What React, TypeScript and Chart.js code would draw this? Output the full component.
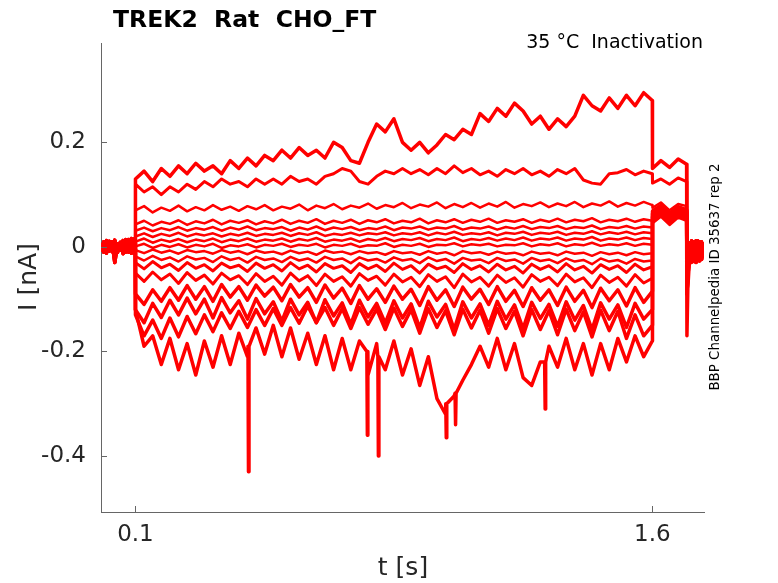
import { useEffect, useRef } from "react";
import { Chart, ChartConfiguration, registerables } from "chart.js";

Chart.register(...registerables);

// time bases [s]
const preT = [0, 0.008, 0.016, 0.024, 0.032, 0.04, 0.048, 0.056, 0.064, 0.072, 0.08, 0.088, 0.096, 0.0995];
const mainT = [
  0.1, 0.125, 0.15, 0.175, 0.2, 0.225, 0.25, 0.275, 0.3, 0.325,
  0.35, 0.375, 0.4, 0.425, 0.45, 0.475, 0.5, 0.525, 0.55, 0.575,
  0.6, 0.625, 0.65, 0.675, 0.7, 0.725, 0.75, 0.775, 0.8, 0.825,
  0.85, 0.875, 0.9, 0.925, 0.95, 0.975, 1, 1.025, 1.05, 1.075,
  1.1, 1.125, 1.15, 1.175, 1.2, 1.225, 1.25, 1.275, 1.3, 1.325,
  1.35, 1.375, 1.4, 1.425, 1.45, 1.475, 1.5, 1.525, 1.55, 1.575,
  1.6,
];
const stepT = [1.6005, 1.625, 1.65, 1.675, 1.6995];
const tailT = [1.7005, 1.703, 1.706, 1.71, 1.714, 1.718, 1.722, 1.727, 1.732, 1.737, 1.743, 1.75];

// holding current before the conditioning step [nA]
const preA = [0.004, -0.01, 0.012, -0.008, 0.01, -0.03, 0.006, -0.006, 0.012, -0.01, 0.014, -0.012, 0.015, -0.005];
const preB = [-0.008, 0.01, -0.012, 0.011, -0.009, 0.013, -0.011, 0.009, -0.013, 0.014, -0.01, 0.016, -0.012, 0.008];

// conditioning step, one array per sweep [nA]
const traceA = [
  0.13, 0.145, 0.125, 0.15, 0.135, 0.155, 0.14, 0.16, 0.145, 0.155,
  0.14, 0.165, 0.15, 0.17, 0.155, 0.175, 0.165, 0.185, 0.17, 0.19,
  0.175, 0.185, 0.17, 0.2, 0.19, 0.165, 0.16, 0.2, 0.235, 0.22,
  0.245, 0.2, 0.185, 0.2, 0.18, 0.195, 0.215, 0.205, 0.225, 0.215,
  0.255, 0.24, 0.265, 0.25, 0.275, 0.26, 0.235, 0.25, 0.225, 0.245,
  0.23, 0.25, 0.29, 0.27, 0.26, 0.285, 0.265, 0.29, 0.27, 0.295,
  0.28,
];
const traceB = [
  0.12, 0.105, 0.115, 0.1, 0.115, 0.105, 0.12, 0.11, 0.125, 0.115,
  0.13, 0.12, 0.125, 0.115, 0.13, 0.12, 0.13, 0.12, 0.135, 0.125,
  0.13, 0.12, 0.135, 0.14, 0.15, 0.145, 0.125, 0.12, 0.135, 0.145,
  0.14, 0.15, 0.14, 0.148, 0.138, 0.15, 0.14, 0.155, 0.142, 0.15,
  0.138, 0.145, 0.135, 0.148, 0.14, 0.15, 0.138, 0.145, 0.135, 0.148,
  0.14, 0.15, 0.128, 0.122, 0.12, 0.14, 0.142, 0.148, 0.138, 0.145,
  0.14,
];
const traceC = [
  0.07, 0.078, 0.066, 0.075, 0.069, 0.079, 0.068, 0.076, 0.07, 0.08,
  0.071, 0.077, 0.069, 0.078, 0.072, 0.08, 0.07, 0.077, 0.073, 0.081,
  0.07, 0.079, 0.074, 0.082, 0.072, 0.079, 0.075, 0.083, 0.073, 0.08,
  0.076, 0.084, 0.074, 0.081, 0.077, 0.085, 0.074, 0.082, 0.076, 0.084,
  0.075, 0.083, 0.077, 0.086, 0.075, 0.082, 0.078, 0.085, 0.076, 0.083,
  0.078, 0.086, 0.076, 0.083, 0.079, 0.087, 0.077, 0.084, 0.079, 0.086,
  0.08,
];
const traceD = [
  0.043, 0.05, 0.041, 0.048, 0.044, 0.051, 0.042, 0.049, 0.045, 0.052,
  0.043, 0.05, 0.046, 0.051, 0.043, 0.049, 0.045, 0.052, 0.044, 0.05,
  0.046, 0.053, 0.044, 0.05, 0.046, 0.052, 0.044, 0.051, 0.047, 0.053,
  0.045, 0.05, 0.047, 0.054, 0.045, 0.051, 0.047, 0.053, 0.046, 0.052,
  0.048, 0.054, 0.046, 0.051, 0.048, 0.053, 0.046, 0.052, 0.048, 0.054,
  0.047, 0.052, 0.049, 0.055, 0.047, 0.052, 0.049, 0.054, 0.048, 0.053,
  0.05,
];
const traceE = [
  0.031, 0.037, 0.03, 0.036, 0.032, 0.038, 0.031, 0.036, 0.033, 0.038,
  0.031, 0.037, 0.033, 0.039, 0.032, 0.036, 0.034, 0.038, 0.031, 0.037,
  0.033, 0.039, 0.032, 0.037, 0.034, 0.038, 0.032, 0.036, 0.034, 0.039,
  0.032, 0.037, 0.035, 0.039, 0.033, 0.037, 0.035, 0.04, 0.033, 0.037,
  0.035, 0.039, 0.033, 0.038, 0.035, 0.04, 0.034, 0.038, 0.036, 0.04,
  0.034, 0.038, 0.036, 0.041, 0.034, 0.038, 0.036, 0.04, 0.035, 0.039,
  0.037,
];
const traceF = [
  0.02, 0.026, 0.019, 0.025, 0.021, 0.027, 0.02, 0.025, 0.022, 0.026,
  0.02, 0.025, 0.022, 0.027, 0.021, 0.025, 0.023, 0.027, 0.021, 0.026,
  0.023, 0.028, 0.021, 0.025, 0.023, 0.027, 0.022, 0.026, 0.024, 0.028,
  0.022, 0.026, 0.024, 0.028, 0.022, 0.027, 0.024, 0.029, 0.023, 0.026,
  0.024, 0.028, 0.022, 0.027, 0.025, 0.029, 0.023, 0.027, 0.025, 0.029,
  0.023, 0.027, 0.025, 0.03, 0.024, 0.028, 0.025, 0.029, 0.024, 0.028,
  0.026,
];
const traceG = [
  0.01, 0.016, 0.008, 0.014, 0.01, 0.015, 0.009, 0.014, 0.011, 0.016,
  0.009, 0.014, 0.011, 0.016, 0.01, 0.014, 0.012, 0.016, 0.01, 0.015,
  0.012, 0.017, 0.01, 0.014, 0.012, 0.016, 0.01, 0.015, 0.012, 0.017,
  0.011, 0.015, 0.013, 0.017, 0.011, 0.015, 0.013, 0.018, 0.011, 0.015,
  0.013, 0.017, 0.012, 0.016, 0.013, 0.018, 0.012, 0.016, 0.014, 0.018,
  0.012, 0.016, 0.014, 0.019, 0.012, 0.016, 0.014, 0.018, 0.013, 0.017,
  0.015,
];
const traceH = [
  0.001, 0.006, -0.002, 0.004, 0, 0.005, -0.001, 0.004, 0.001, 0.006,
  -0.002, 0.003, 0.001, 0.005, -0.001, 0.004, 0.002, 0.006, 0, 0.004,
  0.002, 0.006, -0.001, 0.004, 0.002, 0.006, 0, 0.003, 0.002, 0.007,
  0, 0.004, 0.002, 0.006, 0, 0.004, 0.003, 0.007, 0.001, 0.005,
  0.003, 0.006, 0.001, 0.004, 0.003, 0.007, 0.001, 0.005, 0.003, 0.007,
  0.001, 0.005, 0.003, 0.008, 0.002, 0.005, 0.003, 0.007, 0.002, 0.006,
  0.004,
];
const traceI = [
  -0.006, -0.012, -0.005, -0.011, -0.007, -0.013, -0.006, -0.01, -0.008, -0.013,
  -0.006, -0.011, -0.008, -0.014, -0.007, -0.011, -0.009, -0.014, -0.007, -0.012,
  -0.009, -0.015, -0.007, -0.011, -0.009, -0.014, -0.008, -0.012, -0.01, -0.015,
  -0.008, -0.012, -0.01, -0.015, -0.008, -0.013, -0.01, -0.016, -0.008, -0.012,
  -0.01, -0.015, -0.009, -0.013, -0.011, -0.016, -0.009, -0.013, -0.011, -0.016,
  -0.009, -0.013, -0.011, -0.017, -0.01, -0.014, -0.011, -0.016, -0.01, -0.014,
  -0.012,
];
const traceJ = [
  -0.018, -0.026, -0.017, -0.025, -0.02, -0.028, -0.018, -0.024, -0.021, -0.029,
  -0.018, -0.025, -0.021, -0.03, -0.019, -0.025, -0.022, -0.029, -0.019, -0.026,
  -0.022, -0.03, -0.019, -0.025, -0.022, -0.031, -0.02, -0.026, -0.023, -0.03,
  -0.02, -0.026, -0.023, -0.031, -0.02, -0.027, -0.023, -0.032, -0.021, -0.026,
  -0.024, -0.031, -0.021, -0.027, -0.024, -0.032, -0.021, -0.027, -0.024, -0.031,
  -0.022, -0.028, -0.025, -0.033, -0.022, -0.028, -0.025, -0.032, -0.023, -0.028,
  -0.026,
];
const traceK = [
  -0.03, -0.042, -0.028, -0.04, -0.033, -0.045, -0.03, -0.041, -0.034, -0.046,
  -0.031, -0.04, -0.035, -0.047, -0.031, -0.041, -0.034, -0.046, -0.03, -0.042,
  -0.035, -0.048, -0.032, -0.041, -0.036, -0.049, -0.032, -0.042, -0.035, -0.047,
  -0.031, -0.043, -0.036, -0.05, -0.033, -0.042, -0.037, -0.049, -0.032, -0.043,
  -0.036, -0.048, -0.033, -0.044, -0.037, -0.05, -0.033, -0.043, -0.036, -0.048,
  -0.032, -0.044, -0.037, -0.05, -0.034, -0.043, -0.036, -0.049, -0.033, -0.044,
  -0.038,
];
const traceL = [
  -0.05, -0.066, -0.048, -0.063, -0.052, -0.07, -0.049, -0.064, -0.054, -0.071,
  -0.05, -0.063, -0.055, -0.072, -0.051, -0.066, -0.056, -0.073, -0.05, -0.065,
  -0.055, -0.074, -0.052, -0.066, -0.057, -0.075, -0.051, -0.064, -0.056, -0.073,
  -0.052, -0.067, -0.058, -0.076, -0.053, -0.066, -0.057, -0.078, -0.052, -0.067,
  -0.058, -0.075, -0.054, -0.068, -0.059, -0.077, -0.053, -0.066, -0.058, -0.074,
  -0.052, -0.067, -0.059, -0.078, -0.054, -0.068, -0.058, -0.075, -0.053, -0.069,
  -0.06,
];
const traceM = [
  -0.09, -0.11, -0.082, -0.104, -0.078, -0.102, -0.074, -0.1, -0.076, -0.104,
  -0.072, -0.096, -0.076, -0.102, -0.073, -0.094, -0.077, -0.103, -0.072, -0.096,
  -0.078, -0.106, -0.073, -0.098, -0.079, -0.108, -0.074, -0.1, -0.08, -0.106,
  -0.075, -0.1, -0.081, -0.112, -0.076, -0.102, -0.082, -0.114, -0.077, -0.1,
  -0.081, -0.11, -0.076, -0.104, -0.083, -0.114, -0.078, -0.102, -0.082, -0.112,
  -0.077, -0.104, -0.083, -0.116, -0.079, -0.103, -0.082, -0.113, -0.078, -0.106,
  -0.085,
];
const traceN = [
  -0.12, -0.145, -0.108, -0.135, -0.102, -0.13, -0.098, -0.128, -0.1, -0.136,
  -0.097, -0.126, -0.103, -0.138, -0.099, -0.128, -0.105, -0.142, -0.1, -0.13,
  -0.106, -0.145, -0.101, -0.132, -0.107, -0.148, -0.102, -0.134, -0.108, -0.146,
  -0.103, -0.136, -0.109, -0.155, -0.104, -0.134, -0.11, -0.158, -0.105, -0.136,
  -0.109, -0.15, -0.104, -0.138, -0.111, -0.156, -0.106, -0.137, -0.11, -0.152,
  -0.105, -0.14, -0.112, -0.158, -0.107, -0.138, -0.111, -0.154, -0.108, -0.138,
  -0.12,
];
const traceO = [
  -0.13, -0.17, -0.14, -0.175, -0.136, -0.172, -0.133, -0.166, -0.13, -0.162,
  -0.126, -0.156, -0.123, -0.154, -0.12, -0.15, -0.118, -0.15, -0.116, -0.146,
  -0.113, -0.145, -0.116, -0.15, -0.118, -0.156, -0.116, -0.148, -0.119, -0.158,
  -0.117, -0.152, -0.12, -0.165, -0.118, -0.154, -0.122, -0.168, -0.119, -0.155,
  -0.121, -0.165, -0.118, -0.156, -0.123, -0.17, -0.12, -0.158, -0.122, -0.168,
  -0.119, -0.16, -0.124, -0.172, -0.121, -0.16, -0.123, -0.175, -0.13, -0.17,
  -0.15,
];
const traceP = [
  -0.12, -0.19, -0.17, -0.225, -0.175, -0.235, -0.185, -0.245, -0.18, -0.23,
  -0.17, -0.225, -0.165, -0.21, -0.155, -0.205, -0.15, -0.21, -0.155, -0.215,
  -0.165, -0.225, -0.17, -0.235, -0.175, -0.235, -0.18, -0.245, -0.185, -0.235,
  -0.18, -0.245, -0.195, -0.265, -0.21, -0.29, -0.32, -0.285, -0.255, -0.225,
  -0.19, -0.23, -0.175, -0.235, -0.185, -0.25, -0.265, -0.22, -0.19, -0.23,
  -0.175, -0.235, -0.185, -0.245, -0.185, -0.235, -0.175, -0.22, -0.17, -0.21,
  -0.18,
];
// sharp downward events on the lowest sweep: time, depth, local level
const spikeT = [0.428, 0.773, 0.805, 1.002, 1.029, 1.289];
const spikeV = [-0.43, -0.36, -0.4, -0.365, -0.34, -0.31];
const spikeBase = [-0.19, -0.2, -0.21, -0.3, -0.28, -0.22];

// test step (1.6 - 1.7 s), same sweep order A..P
const stepLevels = [
  [0.15, 0.165, 0.152, 0.168, 0.158],
  [0.122, 0.13, 0.12, 0.132, 0.125],
  [0.075, 0.085, 0.07, 0.082, 0.078],
  [0.065, 0.075, 0.06, 0.072, 0.068],
  [0.055, 0.068, 0.052, 0.066, 0.06],
  [0.06, 0.07, 0.055, 0.074, 0.064],
  [0.05, 0.062, 0.048, 0.06, 0.055],
  [0.045, 0.058, 0.042, 0.056, 0.05],
  [0.07, 0.08, 0.065, 0.078, 0.072],
  [0.052, 0.066, 0.05, 0.064, 0.058],
  [0.062, 0.073, 0.058, 0.07, 0.066],
  [0.047, 0.06, 0.045, 0.058, 0.052],
  [0.068, 0.079, 0.064, 0.076, 0.07],
  [0.057, 0.07, 0.054, 0.068, 0.062],
  [0.063, 0.076, 0.06, 0.074, 0.067],
  [0.05, 0.064, 0.048, 0.062, 0.056],
];

// return to holding
const tailA = [-0.09, -0.06, -0.03, 0.005, -0.025, 0.01, -0.028, 0.012, -0.026, 0.01, -0.024, 0.008];
const tailB = [-0.05, -0.02, 0.008, -0.028, 0.012, -0.026, 0.01, -0.03, 0.012, -0.027, 0.01, -0.02];
const tailC = [-0.17, -0.08, -0.045, -0.01, -0.03, 0.004, -0.022, 0.01, -0.02, 0.006, -0.018, 0];

const xTicks = [0.1, 1.6];
const yTicks = [-0.4, -0.2, 0, 0.2];

const sweeps = [
  traceA, traceB, traceC, traceD, traceE, traceF, traceG, traceH,
  traceI, traceJ, traceK, traceL, traceM, traceN, traceO, traceP,
];
// stroke widths stand in for the recording noise band of each sweep
const sweepWidths = [3.5, 3, 2.5, 2.5, 2.5, 2.5, 2.5, 2.5, 2.5, 2.5, 3, 3, 3.5, 3.5, 3.5, 3.5];

const FONT = "'DejaVu Sans', sans-serif";

function buildSweep(main: number[], idx: number) {
  const pts: { x: number; y: number }[] = [];
  const pre = idx % 2 === 0 ? preA : preB;
  preT.forEach((t, i) => pts.push({ x: t, y: pre[i] }));
  const mainPts = mainT.map((t, i) => ({ x: t, y: main[i] }));
  if (main === traceP) {
    spikeT.forEach((t, i) => {
      mainPts.push({ x: t - 0.0015, y: spikeBase[i] });
      mainPts.push({ x: t, y: spikeV[i] });
      mainPts.push({ x: t + 0.0015, y: spikeBase[i] });
    });
    mainPts.sort((a, b) => a.x - b.x);
  }
  pts.push(...mainPts);
  stepT.forEach((t, i) => pts.push({ x: t, y: stepLevels[idx][i] }));
  const tail = main === traceP ? tailC : idx % 2 === 0 ? tailA : tailB;
  tailT.forEach((t, i) => pts.push({ x: t, y: tail[i] }));
  return pts;
}

const annotations = {
  id: "annotations",
  afterDraw(chart: Chart) {
    const { ctx, chartArea } = chart;
    const xs = chart.scales.x;
    const ys = chart.scales.y;
    ctx.save();
    // inward tick marks
    ctx.strokeStyle = "#666";
    ctx.lineWidth = 1;
    ctx.beginPath();
    xTicks.forEach((v) => {
      const px = Math.round(xs.getPixelForValue(v)) + 0.5;
      ctx.moveTo(px, chartArea.bottom);
      ctx.lineTo(px, chartArea.bottom - 6);
    });
    yTicks.forEach((v) => {
      const py = Math.round(ys.getPixelForValue(v)) + 0.5;
      ctx.moveTo(chartArea.left, py);
      ctx.lineTo(chartArea.left + 6, py);
    });
    ctx.stroke();

    ctx.fillStyle = "#000";
    ctx.font = `bold 23.5px ${FONT}`;
    ctx.textAlign = "left";
    ctx.textBaseline = "alphabetic";
    ctx.fillText("TREK2  Rat  CHO_FT", 113, 27);

    ctx.font = `19px ${FONT}`;
    ctx.textAlign = "right";
    ctx.fillText("35 °C  Inactivation", 703, 48);

    ctx.fillStyle = "#262626";
    ctx.font = `25px ${FONT}`;
    ctx.textAlign = "center";
    ctx.fillText("t [s]", 403, 575);

    ctx.save();
    ctx.translate(29, 277);
    ctx.rotate(-Math.PI / 2);
    ctx.textBaseline = "middle";
    ctx.fillText("I [nA]", 0, 0);
    ctx.restore();

    ctx.save();
    ctx.fillStyle = "#000";
    ctx.translate(716, 277);
    ctx.rotate(-Math.PI / 2);
    ctx.font = `13.4px ${FONT}`;
    ctx.textAlign = "center";
    ctx.textBaseline = "middle";
    ctx.fillText("BBP Channelpedia ID 35637 rep 2", 0, 0);
    ctx.restore();

    ctx.restore();
  },
};

export default function App() {
  const canvasRef = useRef<HTMLCanvasElement>(null);
  const chartRef = useRef<Chart | null>(null);

  useEffect(() => {
    if (!canvasRef.current) return;
    if (chartRef.current) chartRef.current.destroy();

    const config: ChartConfiguration<"line"> = {
      type: "line",
      data: {
        datasets: sweeps.map((s, i) => ({
          data: buildSweep(s, i),
          borderColor: "#ff0000",
          borderWidth: sweepWidths[i],
          borderJoinStyle: "round",
          pointRadius: 0,
          tension: 0,
          fill: false,
        })),
      },
      options: {
        animation: false,
        responsive: false,
        maintainAspectRatio: false,
        events: [],
        layout: { padding: { top: 43, right: 74, left: 0, bottom: 0 } },
        plugins: {
          legend: { display: false },
          tooltip: { enabled: false },
        },
        scales: {
          x: {
            type: "linear",
            min: 0,
            max: 1.75,
            afterFit: (s) => { s.height = 71; },
            afterBuildTicks: (s) => { s.ticks = xTicks.map((v) => ({ value: v })); },
            grid: { display: false, drawTicks: false },
            border: { display: true, color: "#666", width: 1 },
            ticks: {
              color: "#262626",
              font: { family: FONT, size: 23 },
              padding: 9,
              maxRotation: 0,
              autoSkip: false,
              callback: (v) => String(v),
            },
          },
          y: {
            type: "linear",
            min: -0.507,
            max: 0.39,
            afterFit: (s) => { s.width = 101; },
            afterBuildTicks: (s) => { s.ticks = yTicks.map((v) => ({ value: v })); },
            grid: { display: false, drawTicks: false },
            border: { display: true, color: "#666", width: 1 },
            ticks: {
              color: "#262626",
              font: { family: FONT, size: 23 },
              padding: 15,
              autoSkip: false,
              callback: (v) => String(v),
            },
          },
        },
      },
      plugins: [annotations],
    };

    chartRef.current = new Chart(canvasRef.current, config);
    return () => {
      if (chartRef.current) {
        chartRef.current.destroy();
        chartRef.current = null;
      }
    };
  }, []);

  return (
    <div style={{ position: "absolute", left: 0, top: 0, width: 778, height: 583, background: "#fff" }}>
      <canvas ref={canvasRef} width={778} height={583} style={{ display: "block" }} />
    </div>
  );
}
